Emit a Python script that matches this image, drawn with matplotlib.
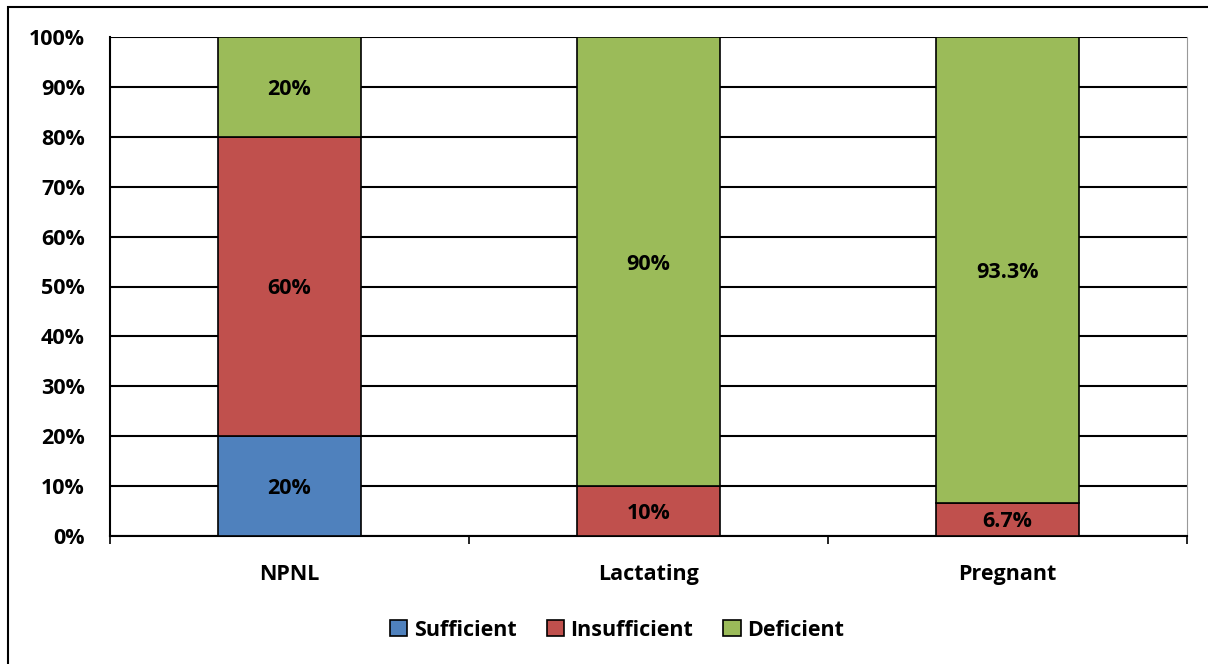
import numpy as np
from matplotlib import pyplot as plt
from matplotlib.patches import Rectangle

groups = ['NPNL', 'Lactating', 'Pregnant']
sufficient = [20, 0, 0]
insufficient = [60, 10, 6.7]
deficient = [20, 90, 93.3]
series_names = ['Sufficient', 'Insufficient', 'Deficient']
colors = ['#4F81BD', '#C0504D', '#9BBB59']

plt.rcParams['font.family'] = ['Open Sans', 'DejaVu Sans']
plt.rcParams['font.weight'] = 'bold'
FS = 15.5

fig = plt.figure(figsize=(12.08, 6.64), dpi=100)
ax = fig.add_axes([110 / 1208, 1 - 536 / 664, 1077 / 1208, 499 / 664])

# outer chart border
fig.patches.append(Rectangle((8 / 1208, -0.05), 1.1, 1 - 7 / 664 + 0.05,
                             transform=fig.transFigure, fill=False,
                             edgecolor='black', linewidth=1.5))

x = np.arange(len(groups))
bottom = np.zeros(len(groups))
for name, vals, c in zip(series_names, [sufficient, insufficient, deficient], colors):
    vals = np.array(vals)
    ax.bar(x, vals, width=0.4, bottom=bottom, color=c, edgecolor='black',
           linewidth=1.2, label=name, zorder=3)
    for i in range(len(groups)):
        if vals[i] > 0:
            txt = ('%g' % vals[i]) + '%'
            ax.text(x[i], bottom[i] + vals[i] / 2, txt, ha='center',
                    va='center_baseline', fontsize=FS, fontweight='bold', zorder=4)
    bottom += vals

ax.set_xlim(-0.5, 2.5)
ax.set_ylim(0, 100)
ax.set_yticks(np.arange(0, 101, 10))
ax.set_yticklabels(['%d%%' % v for v in range(0, 101, 10)])
ax.yaxis.grid(True, color='black', linewidth=1.5, zorder=0)
ax.set_xticks(x)
ax.set_xticklabels(groups)
ax.set_xticks([-0.5, 0.5, 1.5, 2.5], minor=True)
ax.tick_params(axis='x', which='major', length=0, pad=20, labelsize=FS)
ax.tick_params(axis='x', which='minor', length=6, width=1.2, direction='out')
ax.tick_params(axis='y', length=0, pad=18, labelsize=FS)
for lab in ax.get_xticklabels() + ax.get_yticklabels():
    lab.set_fontweight('bold')

ax.spines['top'].set_visible(False)
ax.spines['right'].set_color('#999999')
ax.spines['left'].set_linewidth(1.5)
ax.spines['bottom'].set_linewidth(1.5)

leg = ax.legend(loc='center', bbox_to_anchor=(617 / 1208, 1 - 630 / 664),
                bbox_transform=fig.transFigure, ncol=3, frameon=False,
                fontsize=FS, handlelength=0.8, handleheight=0.8,
                handletextpad=0.3, columnspacing=1.4)
for t in leg.get_texts():
    t.set_fontweight('bold')

fig.savefig('out.png', dpi=100)
